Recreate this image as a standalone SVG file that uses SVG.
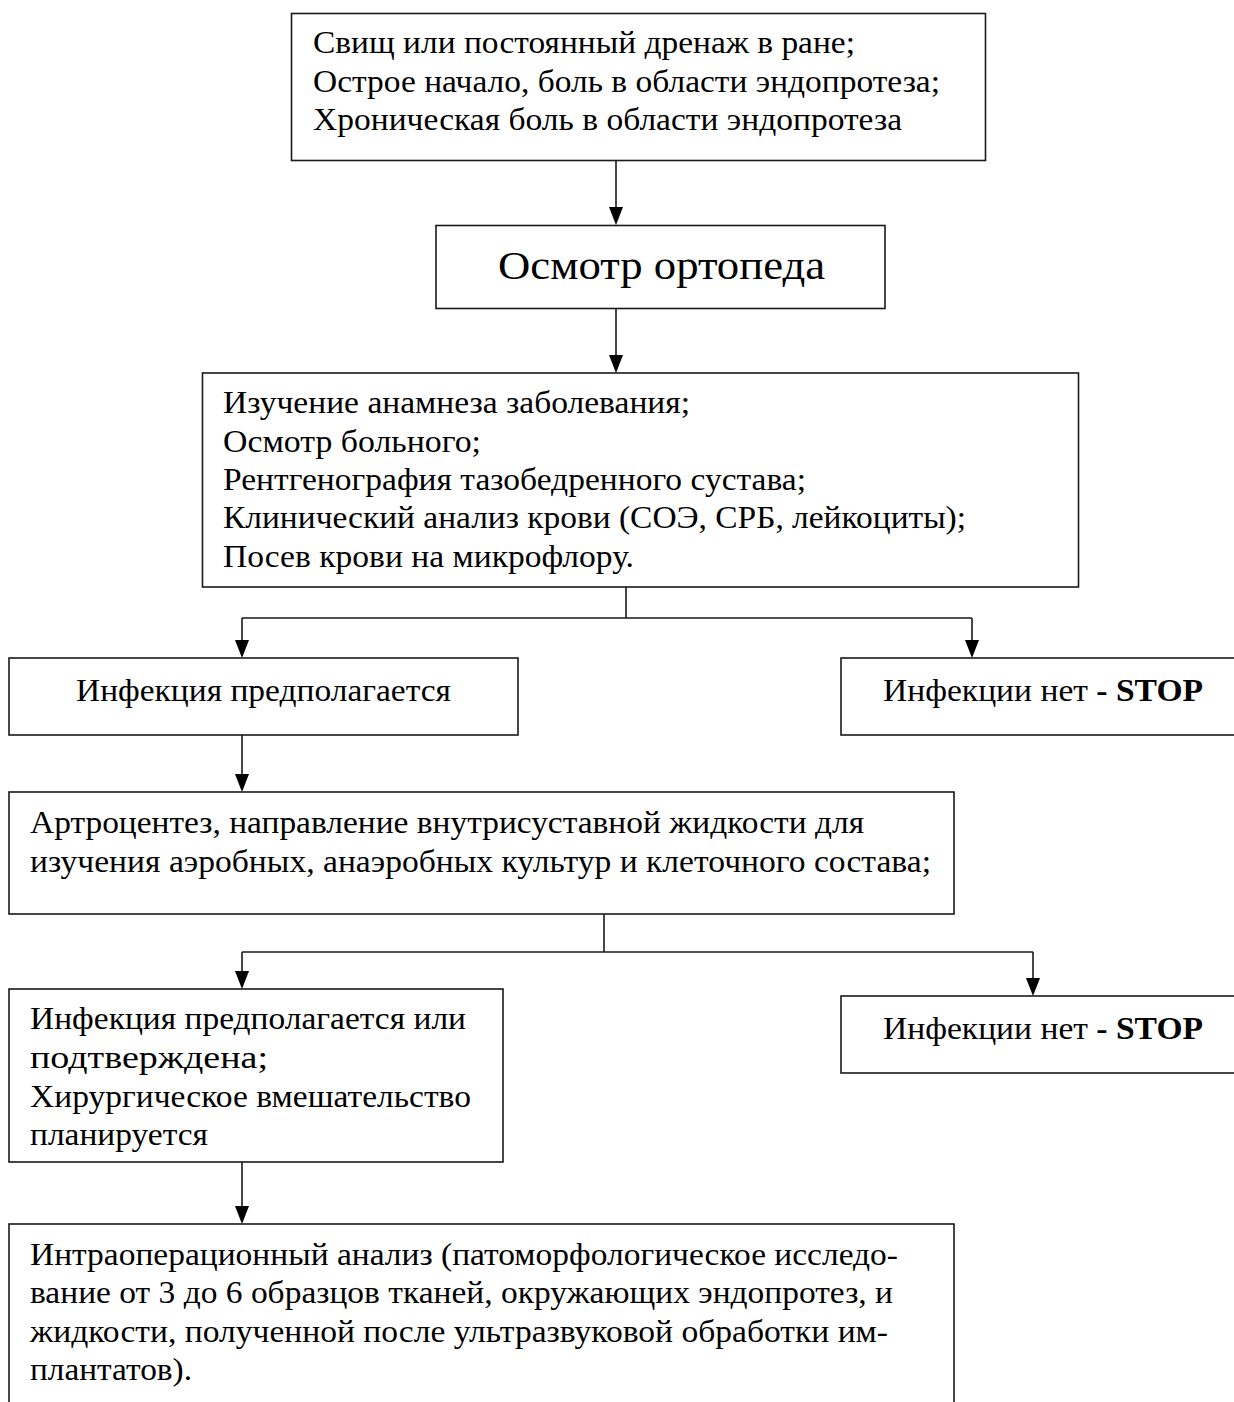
<svg xmlns="http://www.w3.org/2000/svg" width="1234" height="1402" viewBox="0 0 1234 1402">
<style>
.box{fill:#fff;stroke:#1a1a1a;stroke-width:1.6}
.t{font-family:"Liberation Serif","Times New Roman",serif;font-size:32px;fill:#000}
.big{font-size:41px}
.b{font-weight:bold}
.c{fill:none;stroke:#1a1a1a;stroke-width:1.6}
.ah{fill:#000}
</style>
<rect width="1234" height="1402" fill="#fff"/>

<g id="connectors">
<path class="c" d="M616,160 V208"/>
<path class="c" d="M616,309 V356"/>
<path class="c" d="M626,587 V618 M242,618 H972"/>
<path class="c" d="M242,618 V641"/>
<path class="c" d="M972,618 V641"/>
<path class="c" d="M242,735 V775"/>
<path class="c" d="M604,914 V952 M242,952 H1033"/>
<path class="c" d="M242,952 V972"/>
<path class="c" d="M1033,952 V979"/>
<path class="c" d="M242,1162 V1207"/>
<path class="ah" d="M609,207 L623,207 L616,225 Z"/>
<path class="ah" d="M609,355 L623,355 L616,373 Z"/>
<path class="ah" d="M235,640 L249,640 L242,658 Z"/>
<path class="ah" d="M965,640 L979,640 L972,658 Z"/>
<path class="ah" d="M235,774 L249,774 L242,792 Z"/>
<path class="ah" d="M235,971 L249,971 L242,989 Z"/>
<path class="ah" d="M1026,978 L1040,978 L1033,996 Z"/>
<path class="ah" d="M235,1206 L249,1206 L242,1224 Z"/>
</g>

<g id="n1">
<rect class="box" x="291.5" y="13.5" width="694" height="147"/>
<text class="t" x="313" y="53" textLength="542" lengthAdjust="spacingAndGlyphs">Свищ или постоянный дренаж в ране;</text>
<text class="t" x="313" y="92" textLength="627" lengthAdjust="spacingAndGlyphs">Острое начало, боль в области эндопротеза;</text>
<text class="t" x="313" y="130" textLength="589" lengthAdjust="spacingAndGlyphs">Хроническая боль в области эндопротеза</text>
</g>

<g id="n2">
<rect class="box" x="436" y="225.5" width="449" height="83"/>
<text class="t big" x="498" y="279" textLength="327" lengthAdjust="spacingAndGlyphs">Осмотр ортопеда</text>
</g>

<g id="n3">
<rect class="box" x="202.5" y="373" width="876" height="214"/>
<text class="t" x="223" y="413" textLength="467" lengthAdjust="spacingAndGlyphs">Изучение анамнеза заболевания;</text>
<text class="t" x="223" y="452" textLength="258" lengthAdjust="spacingAndGlyphs">Осмотр больного;</text>
<text class="t" x="223" y="490" textLength="583" lengthAdjust="spacingAndGlyphs">Рентгенография тазобедренного сустава;</text>
<text class="t" x="223" y="528" textLength="743" lengthAdjust="spacingAndGlyphs">Клинический анализ крови (СОЭ, СРБ, лейкоциты);</text>
<text class="t" x="223" y="567" textLength="411" lengthAdjust="spacingAndGlyphs">Посев крови на микрофлору.</text>
</g>

<g id="n4">
<rect class="box" x="9" y="658" width="509" height="77"/>
<text class="t" x="76" y="701" textLength="375" lengthAdjust="spacingAndGlyphs">Инфекция предполагается</text>
</g>

<g id="n5">
<rect class="box" x="841" y="658" width="400" height="77"/>
<text class="t" x="883" y="701" textLength="320" lengthAdjust="spacingAndGlyphs">Инфекции нет <tspan class="b">- STOP</tspan></text>
</g>

<g id="n6">
<rect class="box" x="9" y="792" width="945" height="122"/>
<text class="t" x="30" y="833" textLength="834" lengthAdjust="spacingAndGlyphs">Артроцентез, направление внутрисуставной жидкости для</text>
<text class="t" x="30" y="872" textLength="901" lengthAdjust="spacingAndGlyphs">изучения аэробных, анаэробных культур и клеточного состава;</text>
</g>

<g id="n7">
<rect class="box" x="9" y="989" width="494" height="173"/>
<text class="t" x="30" y="1029" textLength="436" lengthAdjust="spacingAndGlyphs">Инфекция предполагается или</text>
<text class="t" x="30" y="1068" textLength="238" lengthAdjust="spacingAndGlyphs">подтверждена;</text>
<text class="t" x="30" y="1107" textLength="441" lengthAdjust="spacingAndGlyphs">Хирургическое вмешательство</text>
<text class="t" x="30" y="1145" textLength="178" lengthAdjust="spacingAndGlyphs">планируется</text>
</g>

<g id="n8">
<rect class="box" x="841" y="996" width="400" height="77"/>
<text class="t" x="883" y="1039" textLength="320" lengthAdjust="spacingAndGlyphs">Инфекции нет <tspan class="b">- STOP</tspan></text>
</g>

<g id="n9">
<rect class="box" x="9" y="1224" width="945" height="200"/>
<text class="t" x="30" y="1265" textLength="868" lengthAdjust="spacingAndGlyphs">Интраоперационный анализ (патоморфологическое исследо-</text>
<text class="t" x="30" y="1303" textLength="863" lengthAdjust="spacingAndGlyphs">вание от 3 до 6 образцов тканей, окружающих эндопротез, и</text>
<text class="t" x="30" y="1342" textLength="858" lengthAdjust="spacingAndGlyphs">жидкости, полученной после ультразвуковой обработки им-</text>
<text class="t" x="30" y="1380" textLength="162" lengthAdjust="spacingAndGlyphs">плантатов).</text>
</g>
</svg>
